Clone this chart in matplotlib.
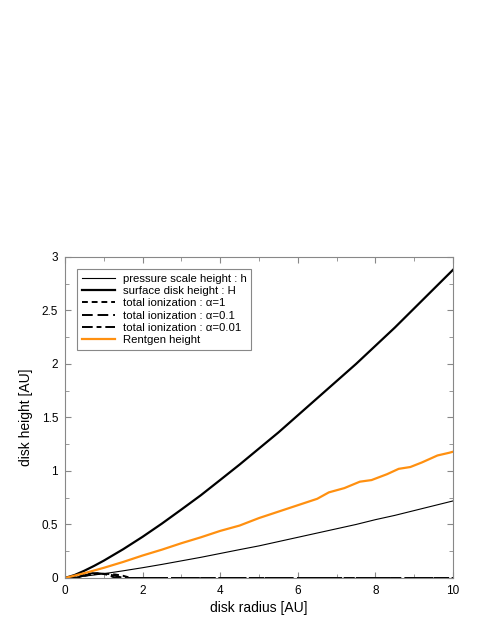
import numpy as np
import matplotlib
matplotlib.use("Agg")
import matplotlib.pyplot as plt

plt.rcParams['font.family'] = ['Liberation Sans', 'DejaVu Sans']

# disk radius grid [AU]
radius = [0, 0.25, 0.5, 0.75, 1, 1.5, 2, 2.5, 3, 3.5, 4, 4.5, 5, 5.5, 6, 6.5,
          7, 7.5, 8, 8.5, 9, 9.5, 10]
# pressure scale height h [AU]
scale_h = [0, 0.007, 0.017, 0.028, 0.04, 0.067, 0.096, 0.127, 0.16, 0.193,
           0.229, 0.265, 0.30, 0.34, 0.38, 0.42, 0.46, 0.50, 0.545, 0.585,
           0.63, 0.675, 0.72]
# surface disk height H [AU]
surface_H = [0, 0.028, 0.068, 0.113, 0.162, 0.269, 0.385, 0.509, 0.64, 0.773,
             0.916, 1.06, 1.21, 1.36, 1.52, 1.68, 1.84, 2.0, 2.17, 2.34, 2.52,
             2.70, 2.88]

# Rentgen (X-ray) height, slightly wobbly
rentgen_r = [0, 0.5, 1, 1.5, 2, 2.5, 3, 3.5, 4, 4.5, 5, 5.5, 6, 6.5, 6.8,
             7.2, 7.6, 7.9, 8.3, 8.6, 8.9, 9.2, 9.6, 9.9, 10]
rentgen_h = [0, 0.045, 0.095, 0.15, 0.21, 0.265, 0.325, 0.38, 0.44, 0.49, 0.56,
             0.62, 0.68, 0.74, 0.80, 0.84, 0.90, 0.915, 0.97, 1.02, 1.037, 1.08,
             1.145, 1.17, 1.18]

# total ionization boundaries for three alpha values
ion1_r = [0, 0.3, 0.5, 0.7, 0.9, 1.1, 1.3, 1.5, 1.6, 1.7, 10]
ion1_h = [0, 0, 0.02, 0.035, 0.04, 0.038, 0.032, 0.02, 0.01, 0, 0]
ion01_r = [0, 0.3, 0.5, 0.7, 0.9, 1.1, 1.3, 1.45, 1.5, 10]
ion01_h = [0, 0, 0.025, 0.04, 0.042, 0.035, 0.02, 0.005, 0, 0]
ion001_r = [0, 0.3, 0.5, 0.7, 0.9, 1.1, 1.2, 1.3, 10]
ion001_h = [0, 0.01, 0.03, 0.045, 0.044, 0.03, 0.015, 0, 0]

fig = plt.figure(figsize=(4.91, 6.35), dpi=100)
ax = fig.add_axes([0.1324, 0.0898, 0.7902, 0.5055])

ax.plot(radius, scale_h, color='black', lw=0.8, label='pressure scale height : h')
ax.plot(radius, surface_H, color='black', lw=1.6, label='surface disk height : H')
ax.plot(ion1_r, ion1_h, color='black', lw=1.4, dashes=(3, 2),
        label='total ionization : α=1')
ax.plot(ion01_r, ion01_h, color='black', lw=1.4, dashes=(5.5, 2.5),
        label='total ionization : α=0.1')
ax.plot(ion001_r, ion001_h, color='black', lw=1.4, dashes=(5.5, 2, 2.5, 2),
        label='total ionization : α=0.01')
ax.plot(rentgen_r, rentgen_h, color='#ff9010', lw=1.6, label='Rentgen height')

ax.set_xlim(0, 10)
ax.set_ylim(0, 3)
ax.set_xticks([0, 2, 4, 6, 8, 10])
ax.set_xticks(np.arange(1, 10, 2), minor=True)
ax.set_yticks([0, 0.5, 1, 1.5, 2, 2.5, 3])
ax.set_yticklabels(['0', '0.5', '1', '1.5', '2', '2.5', '3'])
ax.set_yticks(np.arange(0.25, 3, 0.5), minor=True)
ax.tick_params(which='both', direction='in', top=True, right=True,
               color='#888888', labelsize=8.5, pad=5)
ax.tick_params(which='major', length=4)
ax.tick_params(which='minor', length=3)
for sp in ax.spines.values():
    sp.set_color('#888888')
    sp.set_linewidth(0.8)

ax.set_xlabel('disk radius [AU]', fontsize=10, labelpad=3)
ax.set_ylabel('disk height [AU]', fontsize=10, labelpad=6)

leg = ax.legend(loc='upper left', bbox_to_anchor=(0.031, 0.9625), fontsize=8.2,
                fancybox=False, framealpha=1, edgecolor='#888888',
                handlelength=2.9, labelspacing=0.2, borderpad=0.42,
                handletextpad=0.7, borderaxespad=0)
leg.get_frame().set_linewidth(0.8)

fig.savefig('out.png', dpi=100)
